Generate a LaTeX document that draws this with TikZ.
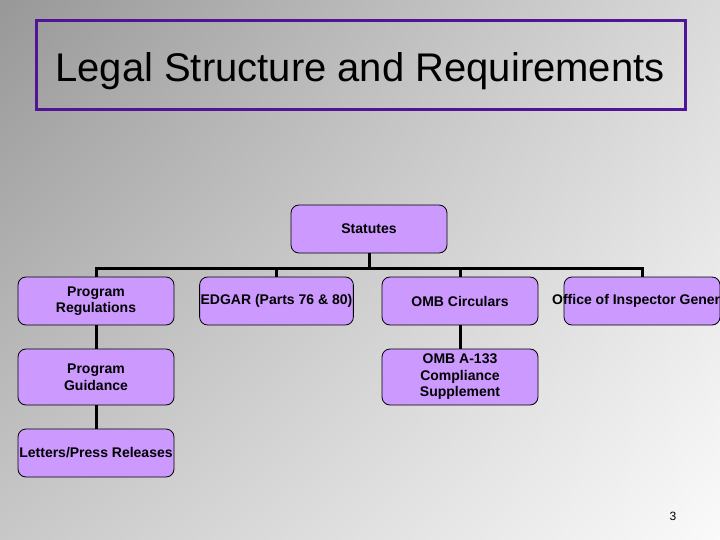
\documentclass[tikz,border=0pt]{standalone}
\usepackage{fontspec}
\setmainfont{Liberation Sans}
\usepackage{xcolor}
\usepackage{tikz}
\usetikzlibrary{positioning,calc,shadings}
\definecolor{boxlilac}{RGB}{204,153,255}
\definecolor{titlepurple}{RGB}{80,20,150}
\definecolor{bgul}{RGB}{152,152,152}
\definecolor{bgur}{RGB}{218,218,218}
\definecolor{bgll}{RGB}{200,200,200}
\definecolor{bglr}{RGB}{250,250,250}

\tikzset{
    orgbox/.style={draw=black, line width=0.8pt, fill=boxlilac, rounded corners=8pt,
        minimum width=156pt, minimum height=48pt, inner sep=1pt, align=center,
        font=\fontsize{14}{16.5}\selectfont\bfseries},
    link/.style={draw=black, line width=3pt, line join=miter}
}

\begin{document}
\begin{tikzpicture}[x=1pt, y=-1pt]
    \useasboundingbox (0,0) rectangle (720,540);
    % background
    \shade[upper left=bgul, upper right=bgur, lower left=bgll, lower right=bglr]
        (0,0) rectangle (720,540);
    % title
    \draw[titlepurple, line width=3pt] (36,21) rectangle (685,110);
    \node[font=\fontsize{40}{44}\selectfont, anchor=base] (title) at (360,82) {Legal Structure and Requirements};
    % top level
    \node[orgbox] (stat) at (369,229) {Statutes};
    % second level
    \node[orgbox] (preg)  at (96,301)  {Program\\Regulations};
    \node[orgbox, minimum width=153pt] (edgar) at (276.5,301) {EDGAR (Parts 76 \& 80)};
    \node[orgbox] (omb)   at (460,301) {OMB Circulars};
    \node[orgbox] (oig)   at (642,301) {\makebox[150pt][c]{Office of Inspector General}};
    % lower levels
    \node[orgbox, minimum height=56pt] (pguide) at (96,377)  {Program\\Guidance};
    \node[orgbox] (letters) at (96,453) {Letters/Press Releases};
    \node[orgbox, minimum height=56pt] (a133)   at (460,377) {OMB A-133\\Compliance\\Supplement};
    % connectors
    \coordinate (bar) at (369,268);
    \draw[link] (stat.south) -- (bar);
    \foreach \n in {preg,edgar,omb,oig}
        \draw[link] (bar) -| (\n.north);
    \draw[link] (preg.south) -- (pguide.north);
    \draw[link] (pguide.south) -- (letters.north);
    \draw[link] (omb.south) -- (a133.north);
    % page number
    \node[font=\fontsize{12}{14}\selectfont] (pnum) at (673,516) {3};
\end{tikzpicture}
\end{document}
